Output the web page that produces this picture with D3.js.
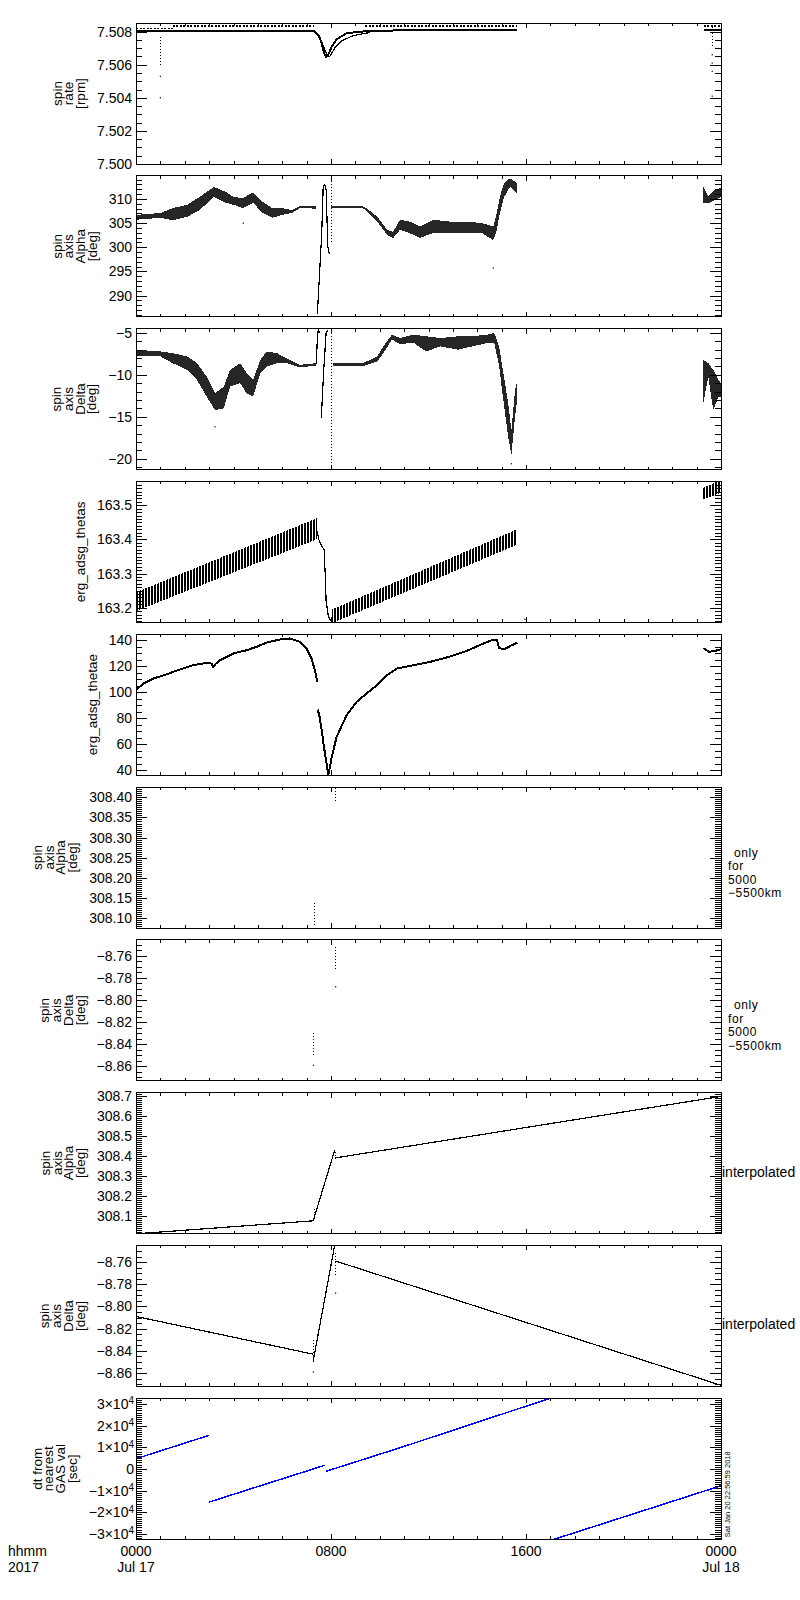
<!DOCTYPE html>
<meta charset="utf-8">
<style>
body { margin: 0; background: #fff; }
.frame { fill: none; stroke: #000; stroke-width: 1; shape-rendering: crispEdges; }
.tick line { shape-rendering: crispEdges; }
.line { fill: none; stroke: #000; stroke-width: 1.2; shape-rendering: crispEdges; }
.thick { stroke-width: 2; }
.dash { stroke-dasharray: 2,1.5; }
.blue { stroke: #0000ff; stroke-width: 1.5; }
.band { fill: #000; fill-opacity: 0.85; shape-rendering: crispEdges; }
.hatch { fill: url(#hatch); fill-opacity: 1; }
.spike { stroke: #000; stroke-width: 1; stroke-dasharray: 1,2; shape-rendering: crispEdges; }
.dot { fill: #000; }
</style>
<svg width="800" height="1600"></svg>
<script src="https://cdnjs.cloudflare.com/ajax/libs/d3/7.8.5/d3.min.js"></script>
<script>
// ---- time axis (hours from 2017-07-17 00:00) ----
var hourTicks = [0, 8, 16, 24];
var hourLabels = ["0000", "0800", "1600", "0000"];
var dayLabels = ["Jul 17", "", "", "Jul 18"];

// ---- panel 1: spin rate [rpm] ----
var rateDomain = [7.5000, 7.50852];
var rateTicks = [7.500, 7.502, 7.504, 7.506, 7.508];
var rateLineT = [0, 7.3, 7.48, 7.62, 7.71, 7.8, 7.89, 8.03, 8.23, 8.64, 9.2, 10.83, 15.64, null, 23.3, 24];
var rateLineV = [7.50805, 7.50803, 7.50780, 7.50730, 7.50670, 7.50646, 7.50660, 7.50710, 7.50754, 7.50790, 7.50800, 7.50808, 7.50808, null, 7.50808, 7.50808];
var rateTrailT = [7.35, 7.55, 7.72, 7.84, 7.95, 8.15, 8.45, 8.9, 9.6];
var rateTrailV = [7.50795, 7.50765, 7.50700, 7.50655, 7.50650, 7.50700, 7.50745, 7.50775, 7.50795];
var rateUpperT = [0, 1.5, null, 1.5, 7.3, null, 9.4, 15.64, null, 23.3, 24];
var rateUpperV = [7.50820, 7.50820, null, 7.50834, 7.50834, null, 7.50834, 7.50834, null, 7.50834, 7.50834];
var rateSpikeT = [1.0, 23.64];
var rateSpikeTop = [7.5077, 7.5083];
var rateSpikeBot = [7.5060, 7.5071];
var rateDotT = [1.0, 1.0, 23.64, 23.64, 23.64, 23.64];
var rateDotV = [7.5053, 7.5040, 7.5066, 7.5061, 7.5056, 7.5041];

// ---- panel 2: spin axis Alpha [deg] ----
var alphaDomain = [285.6, 314.8];
var alphaTicks = [290, 295, 300, 305, 310];
var alphaBandT = [0, 1, 1.5, 2.1, 2.6, 3.2, 3.7, 4.0, 4.4, 4.8, 5.2, 5.6, 6.0, 6.4, 6.73, 7.4, null,
  8.0, 9.3, 9.46, 9.9, 10.3, 10.55, 10.83, 11.24, 11.65, 12.2, 12.9, 13.6, 14.2, 14.66, 14.8, 14.93, 15.1, 15.34, 15.62, null,
  23.27, 23.48, 23.75, 24];
var alphaBandLo = [305.7, 306.1, 305.6, 306.3, 307.7, 310.4, 309.2, 308.8, 308.1, 309.2, 307.1, 306.1, 306.7, 307.1, 308.1, 308.0, null,
  308.1, 308.1, 307.6, 305.3, 302.6, 301.9, 303.6, 302.9, 301.9, 303.0, 302.9, 302.9, 302.9, 301.5, 303.6, 307.1, 310.4, 312.5, 311.2, null,
  309.1, 309.1, 309.8, 310.4];
var alphaBandHi = [306.7, 307.1, 308.1, 308.8, 310.4, 312.5, 311.4, 310.4, 310.2, 311.4, 309.4, 308.1, 308.1, 307.7, 308.5, 308.5, null,
  308.5, 308.5, 308.1, 306.3, 303.6, 303.2, 305.7, 305.3, 304.3, 305.7, 305.3, 305.3, 305.0, 304.3, 307.1, 310.5, 313.3, 314.3, 313.3, null,
  312.5, 310.5, 311.9, 312.3];
var alphaJumpT = [7.44, 7.62, 7.68, 7.74, 7.8, 7.87, 7.93];
var alphaJumpV = [286.2, 302.9, 312.5, 313.0, 311.9, 300.1, 298.6];
var alphaSpikeT = [8.03];
var alphaSpikeTop = [314.3];
var alphaSpikeBot = [300.9];
var alphaDotT = [4.4, 14.66];
var alphaDotV = [305.0, 295.7];

// ---- panel 3: spin axis Delta [deg] ----
var deltaDomain = [-21.3, -4.48];
var deltaTicks = [-20, -15, -10, -5];
var deltaBandT = [0, 1, 1.5, 2.1, 2.5, 2.9, 3.24, 3.6, 3.86, 4.27, 4.54, 4.8, 5.1, 5.36, 5.77, 6.18, 6.73, 7.4, null,
  8.1, 9.3, 9.46, 9.9, 10.15, 10.5, 10.83, 11.4, 11.9, 12.5, 13.2, 13.8, 14.4, 14.7, 14.9, 15.0, 15.14, 15.27, 15.4, 15.55, 15.64, null,
  23.27, 23.48, 23.68, 23.9, 24];
var deltaBandLo = [-7.8, -7.8, -8.6, -9.4, -10.6, -12.6, -14.2, -14.0, -11.4, -11.0, -12.2, -12.6, -9.8, -9.0, -8.6, -8.6, -9.1, -8.9, null,
  -9.0, -9.0, -8.8, -8.4, -7.4, -5.8, -6.3, -6.2, -7.2, -6.6, -7.0, -6.6, -6.2, -6.2, -9.0, -11.4, -14.6, -17.4, -19.6, -15.0, -13.0, null,
  -13.4, -10.2, -14.2, -12.6, -12.6];
var deltaBandHi = [-7.0, -7.2, -7.4, -7.8, -8.6, -10.2, -12.2, -11.4, -9.4, -8.6, -9.8, -10.6, -8.2, -7.2, -7.4, -8.0, -8.8, -8.6, null,
  -8.6, -8.6, -8.4, -7.8, -6.6, -5.2, -5.6, -5.2, -5.4, -5.6, -5.4, -5.4, -5.2, -5.0, -6.6, -8.6, -11.0, -13.4, -16.6, -11.8, -10.8, null,
  -8.2, -8.6, -9.4, -10.6, -11.0];
var deltaJumpT = [7.40, 7.44, 7.48, 7.55, null, 7.60, 7.70, 7.80, 7.86];
var deltaJumpV = [-8.7, -5.5, -4.6, -5.0, null, -15.2, -9.5, -5.0, -4.7];
var deltaSpikeT = [8.03];
var deltaSpikeTop = [-4.6];
var deltaSpikeBot = [-21.3];
var deltaDotT = [3.24, 15.4];
var deltaDotV = [-16.2, -20.6];

// ---- panel 4: erg_adsg_thetas ----
var thetasDomain = [163.157, 163.57];
var thetasTicks = [163.2, 163.3, 163.4, 163.5];
var thetasBandT = [0, 7.41, null, 8.05, 15.64, null, 23.27, 24];
var thetasBandLo = [163.19, 163.40, null, 163.155, 163.385, null, 163.517, 163.537];
var thetasBandHi = [163.245, 163.462, null, 163.195, 163.43, null, 163.551, 163.575];
var thetasDropT = [7.41, 7.5, 7.62, 7.72, 7.76, 7.8, 7.88, 7.95, 8.05];
var thetasDropV = [163.43, 163.40, 163.38, 163.37, 163.30, 163.22, 163.18, 163.165, 163.16];
var thetasDotT = [15.96];
var thetasDotV = [163.166];

// ---- panel 5: erg_adsg_thetae ----
var thetaeDomain = [36.2, 144.6];
var thetaeTicks = [40, 60, 80, 100, 120, 140];
var thetaeT = [0, 0.3, 0.71, 1.26, 1.8, 2.35, 2.9, 3.1, 3.17, 3.25, 3.45, 4.0, 4.54, 4.95, 5.36, 5.9, 6.3, 6.73, 7.0, 7.2, 7.34, 7.44, null,
  7.45, 7.52, 7.62, 7.71, 7.82, 7.89, 7.93, 8.03, 8.23, 8.64, 9.05, 9.46, 9.88, 10.29, 10.7, 11.3, 12.0, 12.8, 13.6, 14.2, 14.6, 14.8, 14.9, 15.1, 15.4, 15.64, null,
  23.27, 23.5, 23.8, 24];
var thetaeV = [101.5, 106.7, 110.5, 113.8, 117.5, 120.8, 122.6, 122.0, 119.5, 121.5, 124.6, 129.8, 132.3, 134.9, 138.2, 140.5, 141.3, 138.7, 133.6, 125.9, 116.9, 107.9, null,
  86.7, 82.3, 70.8, 57.9, 45.2, 36.2, 40.0, 50.2, 65.6, 82.3, 92.5, 99.0, 105.4, 113.1, 118.2, 120.5, 123.0, 127.0, 132.0, 137.0, 140.0, 140.5, 134.0, 133.0, 136.0, 138.0, null,
  134.0, 131.0, 132.0, 133.0];

// ---- panel 6: Alpha only for 5000-5500 km ----
var alphaOnlyDomain = [308.076, 308.4255];
var alphaOnlyTicks = [308.10, 308.15, 308.20, 308.25, 308.30, 308.35, 308.40];
var alphaOnlyT = [7.31, 8.19];
var alphaOnlyTop = [308.137, 308.422];
var alphaOnlyBot = [308.083, 308.389];

// ---- panel 7: Delta only for 5000-5500 km ----
var deltaOnlyDomain = [-8.873, -8.7455];
var deltaOnlyTicks = [-8.86, -8.84, -8.82, -8.80, -8.78, -8.76];
var deltaOnlyT = [7.28, 8.19];
var deltaOnlyTop = [-8.830, -8.7516];
var deltaOnlyBot = [-8.850, -8.7727];
var deltaOnlyDotT = [7.28, 8.19];
var deltaOnlyDotV = [-8.859, -8.788];

// ---- panel 8: Alpha interpolated ----
var alphaIntDomain = [308.013, 308.719];
var alphaIntTicks = [308.1, 308.2, 308.3, 308.4, 308.5, 308.6, 308.7];
var alphaIntT = [0, 7.27, 8.15, null, 8.18, 24];
var alphaIntV = [308.012, 308.077, 308.43, null, 308.392, 308.70];

// ---- panel 9: Delta interpolated ----
var deltaIntDomain = [-8.872, -8.745];
var deltaIntTicks = [-8.86, -8.84, -8.82, -8.80, -8.78, -8.76];
var deltaIntT = [0, 7.27, null, 7.27, 8.15, null, 8.18, 24];
var deltaIntV = [-8.809, -8.843, null, -8.849, -8.745, null, -8.759, -8.871];

// ---- panel 10: dt from nearest GAS val [sec] ----
var dtDomain = [-32400, 32600];
var dtTicks = [-30000, -20000, -10000, 0, 10000, 20000, 30000];
var dtT = [0, 3.0, null, 3.0, 7.75, null, 7.8, 10.83, 17.0, null, 17.0, 24];
var dtV = [4700, 15500, null, -15300, 1700, null, -1100, 9750, 32600, null, -33000, -7750];

var spinAlpha = ["spin", "axis", "Alpha", "[deg]"];
var spinDelta = ["spin", "axis", "Delta", "[deg]"];
var onlyLabel = ["only", "for", "5000", "\u22125500km"];
var stamp = "Sat Jan 20 22:56:59 2018";

// ---------------------------------------------------------------
var FONT = "'Liberation Sans', Arial, sans-serif";
var svg = d3.select("svg");
var W = 585, H = 141, LEFT = 136, TOP0 = 23, STEP = 152.8;
var x = d3.scaleLinear().domain([0, 24]).range([0, W]);

function zip(T, V) { return T.map(function (t, i) { return {t: t, v: V[i]}; }); }
function zip3(T, Lo, Hi) { return T.map(function (t, i) { return {t: t, lo: Lo[i], hi: Hi[i]}; }); }

var defs = svg.append("defs");
defs.append("pattern").attr("id", "hatch")
    .attr("width", 3).attr("height", 4).attr("patternUnits", "userSpaceOnUse")
  .append("rect").attr("width", 2).attr("height", 4).attr("fill", "#000");

var panels = [
  {domain: rateDomain, ticks: rateTicks, minor: 0.0005, fmt: d3.format(".3f"), title: ["spin", "rate", "[rpm]"],
   lines: [{data: zip(rateLineT, rateLineV), cls: "thick"}, {data: zip(rateTrailT, rateTrailV)},
           {data: zip(rateUpperT, rateUpperV), cls: "dash"}],
   spikes: zip3(rateSpikeT, rateSpikeBot, rateSpikeTop), dots: zip(rateDotT, rateDotV)},
  {domain: alphaDomain, ticks: alphaTicks, minor: 1, fmt: d3.format("d"), title: spinAlpha,
   bands: [{data: zip3(alphaBandT, alphaBandLo, alphaBandHi)}],
   lines: [{data: zip(alphaJumpT, alphaJumpV)}],
   spikes: zip3(alphaSpikeT, alphaSpikeBot, alphaSpikeTop), dots: zip(alphaDotT, alphaDotV)},
  {domain: deltaDomain, ticks: deltaTicks, minor: 1, fmt: d3.format("d"), title: spinDelta,
   bands: [{data: zip3(deltaBandT, deltaBandLo, deltaBandHi)}],
   lines: [{data: zip(deltaJumpT, deltaJumpV)}],
   spikes: zip3(deltaSpikeT, deltaSpikeBot, deltaSpikeTop), dots: zip(deltaDotT, deltaDotV)},
  {domain: thetasDomain, ticks: thetasTicks, minor: 0.01, fmt: d3.format(".1f"), title: ["erg_adsg_thetas"],
   bands: [{data: zip3(thetasBandT, thetasBandLo, thetasBandHi), cls: "hatch"}],
   lines: [{data: zip(thetasDropT, thetasDropV)}], dots: zip(thetasDotT, thetasDotV)},
  {domain: thetaeDomain, ticks: thetaeTicks, minor: 5, fmt: d3.format("d"), title: ["erg_adsg_thetae"],
   lines: [{data: zip(thetaeT, thetaeV), cls: "thick"}]},
  {domain: alphaOnlyDomain, ticks: alphaOnlyTicks, minor: 0.005, fmt: d3.format(".2f"), title: spinAlpha,
   spikes: zip3(alphaOnlyT, alphaOnlyBot, alphaOnlyTop), right: onlyLabel},
  {domain: deltaOnlyDomain, ticks: deltaOnlyTicks, minor: 0.005, fmt: d3.format(".2f"), title: spinDelta,
   spikes: zip3(deltaOnlyT, deltaOnlyBot, deltaOnlyTop), dots: zip(deltaOnlyDotT, deltaOnlyDotV), right: onlyLabel},
  {domain: alphaIntDomain, ticks: alphaIntTicks, minor: 0.01, fmt: d3.format(".1f"), title: spinAlpha,
   lines: [{data: zip(alphaIntT, alphaIntV)}],
   spikes: zip3(alphaOnlyT, alphaOnlyBot, alphaOnlyTop), right: ["interpolated"]},
  {domain: deltaIntDomain, ticks: deltaIntTicks, minor: 0.005, fmt: d3.format(".2f"), title: spinDelta,
   lines: [{data: zip(deltaIntT, deltaIntV)}],
   spikes: zip3(deltaOnlyT, deltaOnlyBot, deltaOnlyTop), dots: zip(deltaOnlyDotT, deltaOnlyDotV), right: ["interpolated"]},
  {domain: dtDomain, ticks: dtTicks, minor: 1000, fmt: function () { return ""; }, pow: true,
   title: ["dt from", "nearest", "GAS val", "[sec]"],
   lines: [{data: zip(dtT, dtV), cls: "blue"}]}
];

function minorTicks(dom, step) {
  var a = Math.ceil(dom[0] / step - 1e-6), b = Math.floor(dom[1] / step + 1e-6);
  return d3.range(a, b + 1).map(function (k) { return k * step; });
}

panels.forEach(function (p, i) {
  var top = TOP0 + i * STEP;
  var g = svg.append("g").attr("transform", "translate(" + LEFT + "," + top + ")")
      .attr("font-family", FONT);
  var y = d3.scaleLinear().domain(p.domain).range([H, 0]);

  defs.append("clipPath").attr("id", "clip" + i)
    .append("rect").attr("width", W).attr("height", H);
  var plot = g.append("g").attr("clip-path", "url(#clip" + i + ")");

  var line = d3.line()
      .defined(function (d) { return d.t != null; })
      .x(function (d) { return x(d.t); })
      .y(function (d) { return y(d.v); });
  var area = d3.area()
      .defined(function (d) { return d.t != null; })
      .x(function (d) { return x(d.t); })
      .y0(function (d) { return y(d.lo); })
      .y1(function (d) { return y(d.hi); });

  (p.bands || []).forEach(function (b) {
    plot.append("path").datum(b.data).attr("class", "band " + (b.cls || "")).attr("d", area);
  });
  (p.lines || []).forEach(function (l) {
    plot.append("path").datum(l.data).attr("class", "line " + (l.cls || "")).attr("d", line);
  });
  plot.selectAll(".spike").data(p.spikes || []).enter().append("line")
      .attr("class", "spike")
      .attr("x1", function (d) { return x(d.t); }).attr("x2", function (d) { return x(d.t); })
      .attr("y1", function (d) { return y(d.hi); }).attr("y2", function (d) { return y(d.lo); });
  plot.selectAll(".dot").data(p.dots || []).enter().append("rect")
      .attr("class", "dot")
      .attr("x", function (d) { return x(d.t) - 0.6; })
      .attr("y", function (d) { return y(d.v) - 0.6; })
      .attr("width", 1.2).attr("height", 1.2);

  // y ticks, inward on both sides
  var mins = minorTicks(p.domain, p.minor);
  g.append("g").call(d3.axisLeft(y).tickValues(mins).tickSize(-6).tickFormat(""));
  g.append("g").attr("transform", "translate(" + W + ",0)")
      .call(d3.axisRight(y).tickValues(mins).tickSize(-6).tickFormat(""));
  var yl = g.append("g").attr("class", "yleft")
      .call(d3.axisLeft(y).tickValues(p.ticks).tickSize(-11).tickPadding(p.pow ? 2 : 4).tickFormat(p.fmt));
  g.append("g").attr("transform", "translate(" + W + ",0)")
      .call(d3.axisRight(y).tickValues(p.ticks).tickSize(-11).tickFormat(""));

  if (p.pow) {
    yl.selectAll(".tick text").each(function (d) {
      var t = d3.select(this);
      if (d === 0) { t.text("0"); return; }
      var m = d / 10000;
      t.text((m < 0 ? "\u2212" : "") + Math.abs(m) + "\u00d710");
      t.append("tspan").attr("dy", "-0.45em").attr("font-size", 10).text("4");
    });
  }

  // x ticks on top and bottom
  var hourMinor = d3.range(0, 25);
  [[d3.axisTop, 0], [d3.axisBottom, H]].forEach(function (a) {
    g.append("g").attr("transform", "translate(0," + a[1] + ")")
        .call(a[0](x).tickValues(hourMinor).tickSize(-3).tickFormat(""));
    g.append("g").attr("transform", "translate(0," + a[1] + ")")
        .call(a[0](x).tickValues(hourTicks).tickSize(-5).tickFormat(""));
  });

  g.selectAll(".domain").remove();
  g.selectAll(".tick text").attr("font-size", 14).attr("font-family", FONT);
  g.selectAll("g").attr("font-family", FONT);
  g.append("rect").attr("class", "frame").attr("width", W).attr("height", H);

  // rotated multi-line y title, to the left of the tick labels
  var bb = yl.node().getBBox();
  var n = p.title.length, lh = 11.7;
  var base = bb.x - 12 - lh * (n - 1);
  var tt = g.append("text")
      .attr("transform", "translate(" + base + "," + (H / 2) + ") rotate(-90)")
      .attr("text-anchor", "middle").attr("font-size", 13.5);
  p.title.forEach(function (s, k) {
    tt.append("tspan").attr("x", 0).attr("dy", k ? lh : 0).text(s);
  });

  if (p.right) {
    if (p.right.length > 1) {
      p.right.forEach(function (s, k) {
        g.append("text").attr("x", W + 7 + (k ? 0 : 6)).attr("y", 69.5 + 13.5 * k)
            .attr("font-size", 12).attr("letter-spacing", 0.6).text(s);
      });
    } else {
      g.append("text").attr("x", W + 1).attr("y", 84).attr("font-size", 14).text(p.right[0]);
    }
  }

  if (i === panels.length - 1) {
    hourTicks.forEach(function (h, k) {
      g.append("text").attr("x", x(h)).attr("y", H + 17).attr("text-anchor", "middle")
          .attr("font-size", 14).text(hourLabels[k]);
      if (dayLabels[k]) {
        g.append("text").attr("x", x(h)).attr("y", H + 33).attr("text-anchor", "middle")
            .attr("font-size", 14).text(dayLabels[k]);
      }
    });
    g.append("text").attr("x", 8 - LEFT).attr("y", H + 17).attr("font-size", 14).text("hhmm");
    g.append("text").attr("x", 8 - LEFT).attr("y", H + 33).attr("font-size", 14).text("2017");
    g.append("text").attr("transform", "translate(" + (W + 9) + "," + (H - 2) + ") rotate(-90)")
        .attr("font-size", 7.5).text(stamp);
  }
});
</script>
